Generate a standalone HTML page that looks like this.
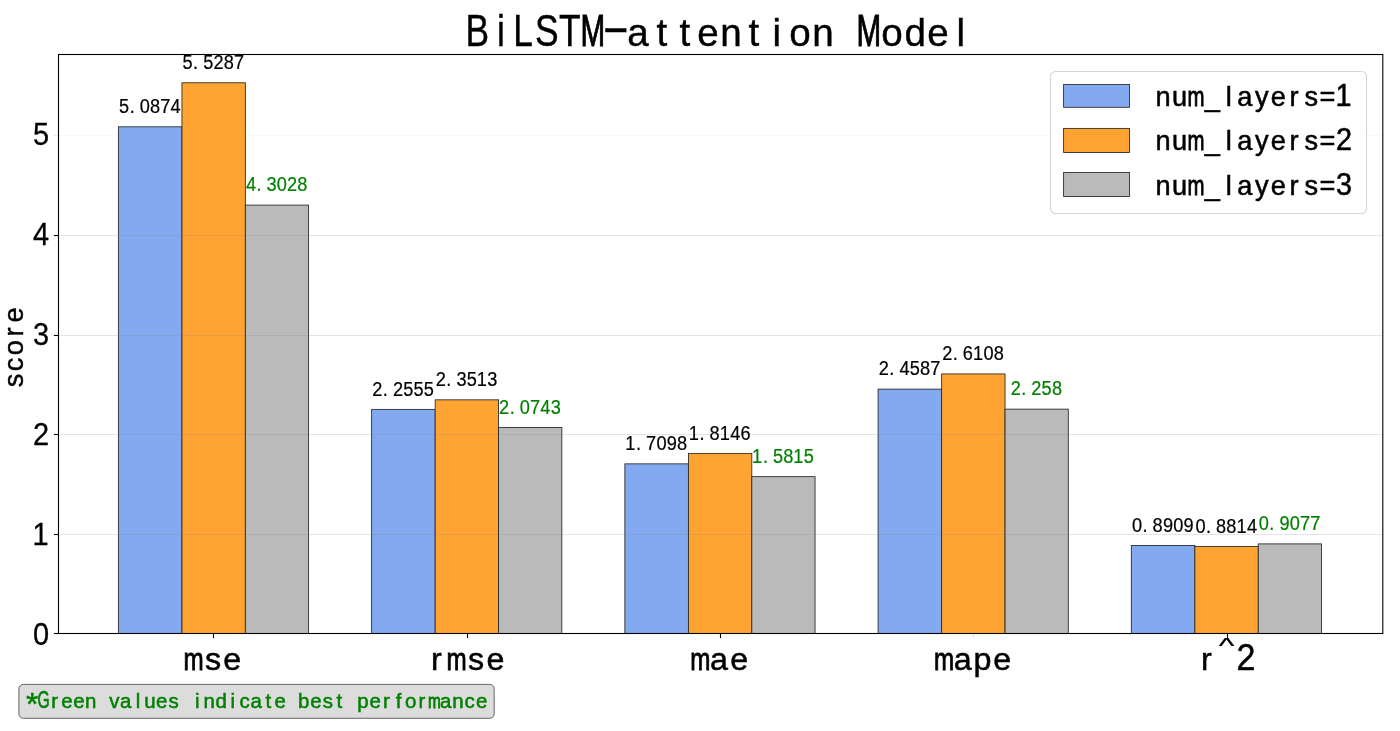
<!DOCTYPE html>
<html lang="en"><head><meta charset="utf-8"><title>BiLSTM-attention Model</title>
<style>html,body{margin:0;padding:0;background:#fff;}body{width:1400px;height:731px;overflow:hidden;}svg{display:block;font-family:'Liberation Sans',sans-serif;font-kerning:none;}text{text-anchor:middle;}</style>
</head><body>
<svg width="1400" height="731" viewBox="0 0 1400 731">
<rect x="0" y="0" width="1400" height="731" fill="#ffffff"/>
<g id="bars" stroke="#262626" stroke-width="0.85">
<rect x="118.4" y="126.8" width="63.55" height="506.7" fill="#83aaf1"/>
<rect x="181.95" y="82.76" width="63.4" height="550.74" fill="#ffa333"/>
<rect x="245.35" y="205.09" width="63.25" height="428.41" fill="#bababa"/>
<rect x="371.63" y="409.39" width="63.55" height="224.11" fill="#83aaf1"/>
<rect x="435.18" y="399.83" width="63.4" height="233.67" fill="#ffa333"/>
<rect x="498.58" y="427.48" width="63.25" height="206.02" fill="#bababa"/>
<rect x="624.86" y="463.85" width="63.55" height="169.65" fill="#83aaf1"/>
<rect x="688.41" y="453.39" width="63.4" height="180.11" fill="#ffa333"/>
<rect x="751.81" y="476.65" width="63.25" height="156.85" fill="#bababa"/>
<rect x="878.09" y="389.12" width="63.55" height="244.38" fill="#83aaf1"/>
<rect x="941.64" y="373.94" width="63.4" height="259.56" fill="#ffa333"/>
<rect x="1005.04" y="409.14" width="63.25" height="224.36" fill="#bababa"/>
<rect x="1131.32" y="545.57" width="63.55" height="87.93" fill="#83aaf1"/>
<rect x="1194.87" y="546.52" width="63.4" height="86.98" fill="#ffa333"/>
<rect x="1258.27" y="543.89" width="63.25" height="89.61" fill="#bababa"/>
</g>
<g id="grid" stroke="#808080" stroke-width="0.9">
<line x1="58.5" x2="1382.8" y1="534.5" y2="534.5" stroke-opacity="0.24"/>
<line x1="58.5" x2="1382.8" y1="434.5" y2="434.5" stroke-opacity="0.24"/>
<line x1="58.5" x2="1382.8" y1="335.5" y2="335.5" stroke-opacity="0.24"/>
<line x1="58.5" x2="1382.8" y1="235.5" y2="235.5" stroke-opacity="0.24"/>
<line x1="58.5" x2="1382.8" y1="135.5" y2="135.5" stroke-opacity="0.06"/>
</g>
<g id="ticks" stroke="#000" stroke-width="1.1">
<line x1="53.9" x2="58.5" y1="633.5" y2="633.5"/>
<line x1="53.9" x2="58.5" y1="534.5" y2="534.5"/>
<line x1="53.9" x2="58.5" y1="434.5" y2="434.5"/>
<line x1="53.9" x2="58.5" y1="335.5" y2="335.5"/>
<line x1="53.9" x2="58.5" y1="235.5" y2="235.5"/>
<line x1="53.9" x2="58.5" y1="135.5" y2="135.5" stroke-opacity="0.08"/>
<line x1="213.5" x2="213.5" y1="633.5" y2="638.2"/>
<line x1="467.5" x2="467.5" y1="633.5" y2="638.2"/>
<line x1="720.5" x2="720.5" y1="633.5" y2="638.2"/>
<line x1="973.5" x2="973.5" y1="633.5" y2="638.2" stroke-opacity="0.1"/>
<line x1="1227.5" x2="1227.5" y1="633.5" y2="638.2"/>
</g>
<rect x="58.5" y="54.5" width="1324.3" height="579" fill="none" stroke="#000" stroke-width="1.1"/>
<g id="values">
<text aria-label="5.0874" transform="translate(0,113)" x="124.14 132.16 144.72 155.03 165.32 175.68" y="0" font-size="19.77" fill="#000" stroke="#000" stroke-width="0.2" textLength="55.63" lengthAdjust="spacingAndGlyphs">5.0874</text>
<text aria-label="5.5287" transform="translate(0,68.96)" x="187.62 195.63 208.22 218.5 228.8 239.09" y="0" font-size="19.77" fill="#000" stroke="#000" stroke-width="0.2" textLength="55.63" lengthAdjust="spacingAndGlyphs">5.5287</text>
<text aria-label="4.3028" transform="translate(0,191.29)" x="250.98 258.96 271.58 281.82 292.12 302.43" y="0" font-size="19.77" fill="#008000" stroke="#008000" stroke-width="0.2" textLength="55.63" lengthAdjust="spacingAndGlyphs">4.3028</text>
<text aria-label="2.2555" transform="translate(0,395.59)" x="377.35 385.39 397.95 408.27 418.57 428.87" y="0" font-size="19.77" fill="#000" stroke="#000" stroke-width="0.2" textLength="55.63" lengthAdjust="spacingAndGlyphs">2.2555</text>
<text aria-label="2.3513" transform="translate(0,386.03)" x="440.83 448.86 461.48 471.75 481.78 492.38" y="0" font-size="19.77" fill="#000" stroke="#000" stroke-width="0.2" textLength="55.63" lengthAdjust="spacingAndGlyphs">2.3513</text>
<text aria-label="2.0743" transform="translate(0,413.68)" x="504.15 512.19 524.75 535.05 545.41 555.71" y="0" font-size="19.77" fill="#008000" stroke="#008000" stroke-width="0.2" textLength="55.63" lengthAdjust="spacingAndGlyphs">2.0743</text>
<text aria-label="1.7098" transform="translate(0,450.05)" x="630.34 638.62 651.18 661.49 671.79 682.09" y="0" font-size="19.77" fill="#000" stroke="#000" stroke-width="0.2" textLength="55.63" lengthAdjust="spacingAndGlyphs">1.7098</text>
<text aria-label="1.8146" transform="translate(0,439.59)" x="693.81 702.09 714.66 724.71 735.32 745.5" y="0" font-size="19.77" fill="#000" stroke="#000" stroke-width="0.2" textLength="55.63" lengthAdjust="spacingAndGlyphs">1.8146</text>
<text aria-label="1.5815" transform="translate(0,462.85)" x="757.14 765.42 778 788.28 798.34 808.9" y="0" font-size="19.77" fill="#008000" stroke="#008000" stroke-width="0.2" textLength="55.63" lengthAdjust="spacingAndGlyphs">1.5815</text>
<text aria-label="2.4587" transform="translate(0,375.32)" x="883.81 891.85 904.47 914.73 925.01 935.31" y="0" font-size="19.77" fill="#000" stroke="#000" stroke-width="0.2" textLength="55.63" lengthAdjust="spacingAndGlyphs">2.4587</text>
<text aria-label="2.6108" transform="translate(0,360.14)" x="947.29 955.32 967.83 977.94 988.49 998.79" y="0" font-size="19.77" fill="#000" stroke="#000" stroke-width="0.2" textLength="55.63" lengthAdjust="spacingAndGlyphs">2.6108</text>
<text aria-label="2.258" transform="translate(0,395.34)" x="1015.76 1023.8 1036.37 1046.68 1056.96" y="0" font-size="19.77" fill="#008000" stroke="#008000" stroke-width="0.2" textLength="45.52" lengthAdjust="spacingAndGlyphs">2.258</text>
<text aria-label="0.8909" transform="translate(0,531.77)" x="1137.04 1145.08 1157.64 1167.95 1178.24 1188.55" y="0" font-size="19.77" fill="#000" stroke="#000" stroke-width="0.2" textLength="55.63" lengthAdjust="spacingAndGlyphs">0.8909</text>
<text aria-label="0.8814" transform="translate(0,532.72)" x="1200.52 1208.55 1221.12 1231.42 1241.47 1252.08" y="0" font-size="19.77" fill="#000" stroke="#000" stroke-width="0.2" textLength="55.63" lengthAdjust="spacingAndGlyphs">0.8814</text>
<text aria-label="0.9077" transform="translate(0,530.09)" x="1263.85 1271.88 1284.45 1294.74 1305.04 1315.34" y="0" font-size="19.77" fill="#008000" stroke="#008000" stroke-width="0.2" textLength="55.63" lengthAdjust="spacingAndGlyphs">0.9077</text>
</g>
<g id="yticks">
<text aria-label="0" transform="translate(0,645.3)" x="41" y="0" font-size="31.51" fill="#000" stroke="#000" stroke-width="0.3" textLength="16.12" lengthAdjust="spacingAndGlyphs">0</text>
<text aria-label="1" transform="translate(0,545.2)" x="40.6" y="0" font-size="31.51" fill="#000" stroke="#000" stroke-width="0.3" textLength="16.12" lengthAdjust="spacingAndGlyphs">1</text>
<text aria-label="2" transform="translate(0,445.1)" x="41" y="0" font-size="31.51" fill="#000" stroke="#000" stroke-width="0.3" textLength="16.12" lengthAdjust="spacingAndGlyphs">2</text>
<text aria-label="3" transform="translate(0,345)" x="41.08" y="0" font-size="31.51" fill="#000" stroke="#000" stroke-width="0.3" textLength="16.12" lengthAdjust="spacingAndGlyphs">3</text>
<text aria-label="4" transform="translate(0,244.9)" x="41.09" y="0" font-size="31.51" fill="#000" stroke="#000" stroke-width="0.3" textLength="16.12" lengthAdjust="spacingAndGlyphs">4</text>
<text aria-label="5" transform="translate(0,144.8)" x="41.03" y="0" font-size="31.51" fill="#000" stroke="#000" stroke-width="0.3" textLength="16.12" lengthAdjust="spacingAndGlyphs">5</text>
</g>
<g id="xticks">
<text aria-label="mse" transform="translate(0,670)" x="193.49 213.03 232.33" y="0" font-size="32.25" fill="#000" stroke="#000" stroke-width="0.5"><tspan textLength="20.15" lengthAdjust="spacingAndGlyphs" stroke-width="0.9">m</tspan>se</text>
<text aria-label="rmse" transform="translate(0,670)" x="436.43 456.62 476.16 495.46" y="0" font-size="32.25" fill="#000" stroke="#000" stroke-width="0.5">r<tspan textLength="20.15" lengthAdjust="spacingAndGlyphs" stroke-width="0.9">m</tspan>se</text>
<text aria-label="mae" transform="translate(0,670)" x="700.35 719.08 739.19" y="0" font-size="32.25" fill="#000" stroke="#000" stroke-width="0.5"><tspan textLength="20.15" lengthAdjust="spacingAndGlyphs" stroke-width="0.9">m</tspan>ae</text>
<text aria-label="mape" transform="translate(0,670)" x="944.08 962.81 982.53 1002.32" y="0" font-size="32.25" fill="#000" stroke="#000" stroke-width="0.5"><tspan textLength="20.15" lengthAdjust="spacingAndGlyphs" stroke-width="0.9">m</tspan>ape</text>
<text aria-label="r^2" transform="translate(0,670)" x="1206.42 1226.62 1246.02" y="0 -17.07 0" font-size="32.25" fill="#000" stroke="#000" stroke-width="0.5">r<tspan font-size="21.49" textLength="15.63" lengthAdjust="spacingAndGlyphs" stroke-width="0.2">^</tspan><tspan font-size="37.06" textLength="18.96" lengthAdjust="spacingAndGlyphs">2</tspan></text>
</g>
<g transform="translate(23.2,347.7) rotate(-90)"><text aria-label="score" transform="translate(0,0)" x="-32.69 -16.62 0 15.72 32.83" y="0" font-size="27.3" fill="#000" stroke="#000" stroke-width="0.4">score</text></g>
<text aria-label="BiLSTM-attention Model" transform="translate(0,45.7)" x="477.38 500.91 523.04 546.91 569.91 592.9 615.9 638.08 661.75 684.75 707.94 730.87 753.75 776.91 799.9 822.87 845.9 868.9 891.9 915.33 937.94 960.89" y="0 0 0 0 0 0 -3.68 0 0 0 0 0 0 0 0 0 0 0 0 0 0 0" font-size="38.59" fill="#000" stroke="#000" stroke-width="0.4"><tspan font-size="44.22" textLength="96.33" lengthAdjust="spacingAndGlyphs">BiLST</tspan><tspan font-size="44.22" textLength="24.68" lengthAdjust="spacingAndGlyphs" stroke-width="1">M</tspan><tspan font-size="44.22" textLength="27.24" lengthAdjust="spacingAndGlyphs" stroke-width="0.7">-</tspan>attention <tspan font-size="44.22" textLength="24.68" lengthAdjust="spacingAndGlyphs" stroke-width="1">M</tspan>odel</text>
<rect x="1050.5" y="71.5" width="316" height="142" rx="5" ry="5" fill="#ffffff" fill-opacity="0.8" stroke="#cccccc" stroke-opacity="0.8" stroke-width="1.1"/>
<rect x="1063.6" y="84.5" width="65.9" height="22.8" fill="#83aaf1" stroke="#262626" stroke-width="0.85"/>
<text aria-label="num_layers=1" transform="translate(0,106)" x="1163.01 1179.49 1195.92 1212.43 1228.82 1244.7 1261.72 1278.2 1293.95 1311.19 1327.53 1343.58" y="0" font-size="27.2" fill="#000" stroke="#000" stroke-width="0.5">nu<tspan textLength="16.99" lengthAdjust="spacingAndGlyphs" stroke-width="0.9">m</tspan>_layers=<tspan font-size="31.31" textLength="16.02" lengthAdjust="spacingAndGlyphs">1</tspan></text>
<rect x="1063.6" y="128.4" width="65.9" height="24.1" fill="#ffa333" stroke="#262626" stroke-width="0.85"/>
<text aria-label="num_layers=2" transform="translate(0,150.25)" x="1163.01 1179.49 1195.92 1212.43 1228.82 1244.7 1261.72 1278.2 1293.95 1311.19 1327.53 1343.97" y="0" font-size="27.2" fill="#000" stroke="#000" stroke-width="0.5">nu<tspan textLength="16.99" lengthAdjust="spacingAndGlyphs" stroke-width="0.9">m</tspan>_layers=<tspan font-size="31.31" textLength="16.02" lengthAdjust="spacingAndGlyphs">2</tspan></text>
<rect x="1063.6" y="172.5" width="65.9" height="24" fill="#bababa" stroke="#262626" stroke-width="0.85"/>
<text aria-label="num_layers=3" transform="translate(0,194.5)" x="1163.01 1179.49 1195.92 1212.43 1228.82 1244.7 1261.72 1278.2 1293.95 1311.19 1327.53 1344.06" y="0" font-size="27.2" fill="#000" stroke="#000" stroke-width="0.5">nu<tspan textLength="16.99" lengthAdjust="spacingAndGlyphs" stroke-width="0.9">m</tspan>_layers=<tspan font-size="31.31" textLength="16.02" lengthAdjust="spacingAndGlyphs">3</tspan></text>
<rect x="18.9" y="684.4" width="475.3" height="33.9" rx="4.5" ry="4.5" fill="#dcdcdc" stroke="#555555" stroke-width="0.9"/>
<text aria-label="*Green values indicate best performance" transform="translate(0,707.7)" x="32.25 43.47 54.62 66.99 78.84 90.66 102.52 114.38 125.79 138.07 149.94 161.79 173.71 185.47 197.33 209.16 221.25 232.88 244.56 256.14 268.35 280.29 292.12 303.75 315.84 327.76 339.45 351.38 363 375.09 386.42 398.62 410.62 421.97 434.32 445.74 458.01 469.71 481.74" y="7.11 0 0 0 0 0 0 0 0 0 0 0 0 0 0 0 0 0 0 0 0 0 0 0 0 0 0 0 0 0 0 0 0 0 0 0 0 0 0" font-size="20.44" fill="#008000" stroke="#008000" stroke-width="0.5"><tspan font-size="31.8">*</tspan><tspan font-size="23.04" textLength="12.19" lengthAdjust="spacingAndGlyphs" stroke-width="0.7">G</tspan>reen values indicate best perfor<tspan textLength="12.77" lengthAdjust="spacingAndGlyphs" stroke-width="0.9">m</tspan>ance</text>
</svg>
</body></html>
